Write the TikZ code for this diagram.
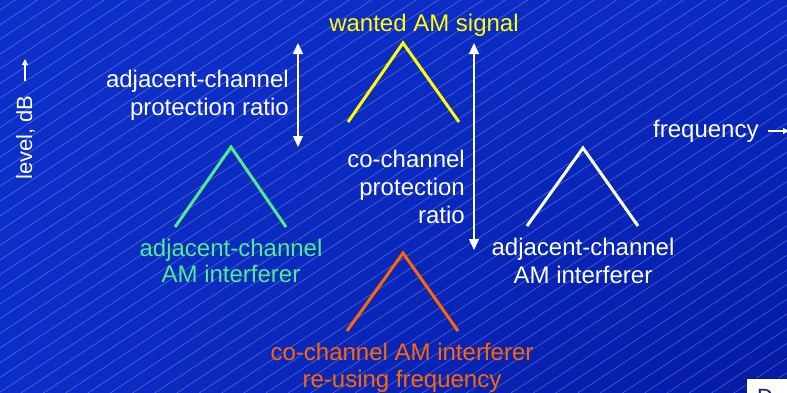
\documentclass[tikz,border=0pt]{standalone}
\usepackage{fontspec}
\setmainfont{Liberation Sans}
\usetikzlibrary{arrows.meta,shadings}
\definecolor{bgUL}{RGB}{14,48,202}
\definecolor{bgUR}{RGB}{10,42,194}
\definecolor{bgLL}{RGB}{12,46,200}
\definecolor{bgLR}{RGB}{4,26,164}
\definecolor{wantedY}{RGB}{255,255,0}
\definecolor{adjG}{RGB}{80,235,140}
\definecolor{coO}{RGB}{255,102,0}
\definecolor{navy}{RGB}{16,28,110}
\begin{document}
\begin{tikzpicture}[x=1pt,y=-1pt,
  lbl/.style={font=\fontsize{24}{28}\selectfont, inner sep=0pt},
  lbls/.style={font=\fontsize{22}{26}\selectfont, inner sep=0pt},
  peak/.style={line width=3pt, line join=miter, line cap=butt},
  stripe/.style={white, opacity=0.3, line width=0.55pt},
  ratioarrow/.style={white, line width=1.3pt,
    {Triangle[width=10pt,length=11pt]}-{Triangle[width=10pt,length=11pt]}},
  smallarrow/.style={white, line width=1.2pt, -{Triangle[width=6pt,length=6pt]}}]
\useasboundingbox (0,0) rectangle (787,392);
\clip (0,0) rectangle (787,392);
% background
\shade[upper left=bgUL, upper right=bgUR, lower left=bgLL, lower right=bgLR] (0,0) rectangle (787,392);
\foreach \c in {10,24.7,...,930} \draw[stripe] (0,\c) -- ++(1400,-924);
% spectra
\draw[peak, wantedY] (348,122) -- (403,43) -- (459,122);
\draw[peak, adjG] (175,227) -- (231,147) -- (286,227);
\draw[peak, white] (527,226) -- (583,148) -- (638,226);
\draw[peak, coO] (347,331) -- (403,253) -- (458,331);
% protection ratio arrows
\coordinate (acTop) at (298,43);
\coordinate (acBot) at (298,147);
\draw[ratioarrow] (acTop) -- (acBot);
\coordinate (ccTop) at (474,43);
\coordinate (ccBot) at (474,250);
\draw[ratioarrow] (ccTop) -- (ccBot);
% labels
\node[lbl, wantedY, anchor=base] (wanted) at (424,31) {wanted AM signal};
\node[lbl, white, anchor=base east] (acpr1) at (289,87) {adjacent-channel};
\node[lbl, white, anchor=base east] (acpr2) at (289,115) {protection ratio};
\node[lbl, white, anchor=base east] (ccpr1) at (465,167) {co-channel};
\node[lbl, white, anchor=base east] (ccpr2) at (465,195) {protection};
\node[lbl, white, anchor=base east] (ccpr3) at (465,223) {ratio};
\node[lbl, adjG, anchor=base] (adjL1) at (231,256) {adjacent-channel};
\node[lbl, adjG, anchor=base] (adjL2) at (231,282) {AM interferer};
\node[lbl, white, anchor=base] (adjR1) at (583,255) {adjacent-channel};
\node[lbl, white, anchor=base] (adjR2) at (583,283) {AM interferer};
\node[lbl, coO, anchor=base] (co1) at (402,360) {co-channel AM interferer};
\node[lbl, coO, anchor=base] (co2) at (402,387) {re-using frequency};
% axes labels
\node[lbl, white, anchor=base west] (freq) at (653,137) {frequency};
\coordinate (freqStart) at (768,131);
\coordinate (freqEnd) at (789,131);
\draw[smallarrow] (freqStart) -- (freqEnd);
\node[lbls, white, rotate=90, anchor=base west] (level) at (32,180) {level, dB};
\coordinate (levelStart) at (25,81);
\coordinate (levelEnd) at (25,59);
\draw[smallarrow] (levelStart) -- (levelEnd);
% logo box
\node[draw=navy, fill=white, line width=1pt, anchor=north west, minimum width=60pt, minimum height=30pt, inner sep=0pt] (logo) at (746,378) {};
\node[font=\fontsize{22}{26}\selectfont, text=navy, anchor=base west, inner sep=0pt] (logoD) at (757,404) {D};
\end{tikzpicture}
\end{document}
